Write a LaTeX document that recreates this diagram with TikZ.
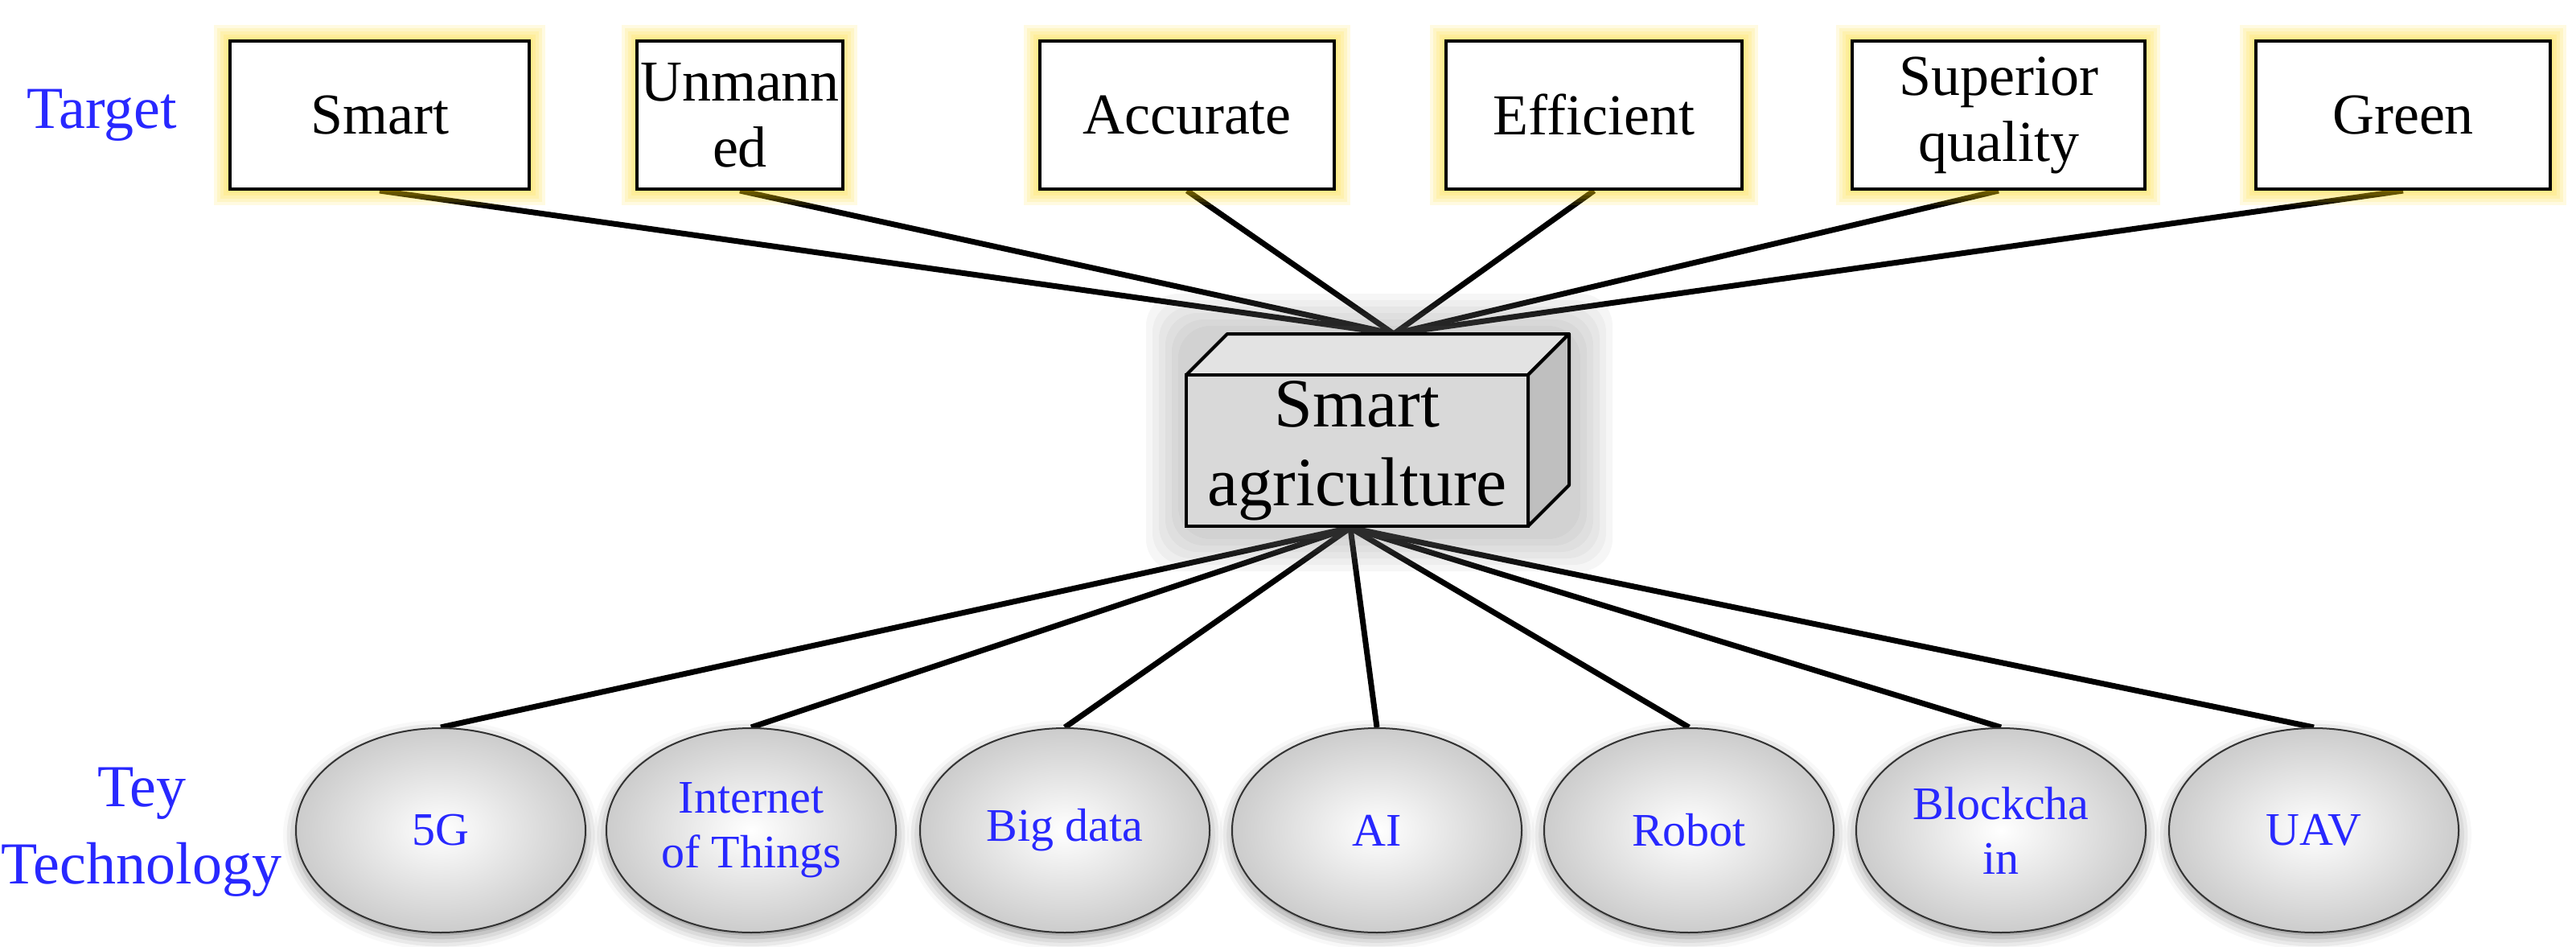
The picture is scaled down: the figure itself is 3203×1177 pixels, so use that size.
\documentclass[tikz,border=0pt]{standalone}
\usepackage{fontspec}
\setmainfont{Liberation Serif}
\usetikzlibrary{shapes.geometric,backgrounds,shadows.blur}
\definecolor{tblue}{RGB}{40,40,255}
\tikzset{
  tgt/.style={draw=black,line width=2pt,fill=white,minimum height=92pt,inner sep=2pt,align=center,font=\fontsize{36}{41}\selectfont},
  tech/.style={ellipse,draw=black!80,line width=1pt,minimum width=180pt,minimum height=127pt,inner sep=0pt,align=center,
    inner color=white,outer color=gray!40,text=tblue,font=\fontsize{29}{34}\selectfont,
    blur shadow={shadow xshift=0pt,shadow yshift=-3pt,shadow blur radius=8pt,shadow opacity=45}},
  lbl/.style={text=tblue,align=center,font=\fontsize{37}{44}\selectfont},
  conn/.style={line width=3.5pt,black},
  glow/.style={fill=yellow!70!orange,opacity=0.12,draw=none}
}
\begin{document}
\begin{tikzpicture}[x=0.5pt,y=-0.5pt]
\useasboundingbox (0,0) rectangle (3203,1177);
% soft shadow of the 3D box
\foreach \d in {0,8,16,24,32,40}{\fill[gray,opacity=0.07,rounded corners=20] (1465-\d,405-\d) rectangle (1965+\d,670+\d);}
% glows
\foreach \xa/\xb in {286/658,793/1046,1293/1659,1798/2166,2303/2666,2805/3171}{
  \foreach \d in {4,8,12,16,20}{
    \fill[glow] (\xa-\d,51-\d) rectangle (\xb+\d,235+\d);
  }
}
\node[tgt,minimum width=186pt] (t1) at (472,143) {Smart};
\node[tgt,minimum width=126pt] (t2) at (920,143) {Unmann\\ed};
\node[tgt,minimum width=183pt] (t3) at (1476,143) {Accurate};
\node[tgt,minimum width=184pt] (t4) at (1982,143) {Efficient};
\node[tgt,minimum width=182pt] (t5) at (2485,143) {Superior\\quality};
\node[tgt,minimum width=183pt] (t6) at (2988,143) {Green};
\node[lbl] (ltarget) at (127,143) {Target};
\node[lbl,font=\fontsize{37}{48}\selectfont] (ltech) at (176,1034) {Tey\\Technology};
% ellipses
\node[tech] (e1) at (548,1032) {5G};
\node[tech] (e2) at (934,1032) {Internet\\of Things};
\node[tech] (e3) at (1324,1032) {Big data};
\node[tech] (e4) at (1712,1032) {AI};
\node[tech] (e5) at (2100,1032) {Robot};
\node[tech] (e6) at (2488,1032) {Blockcha\\in};
\node[tech] (e7) at (2877,1032) {UAV};
% 3D box
\coordinate (tc) at (1733,415);
\coordinate (bc) at (1679,656);
\fill[gray!22,draw=black,line width=2pt,line join=round] (1475,466) -- (1526,415) -- (1951,415) -- (1900,466) -- cycle;
\fill[gray!50,draw=black,line width=2pt,line join=round] (1900,466) -- (1951,415) -- (1951,603) -- (1900,654) -- cycle;
\node[draw=black,line width=2pt,fill=gray!30,minimum width=212.5pt,minimum height=94pt,inner sep=0pt,align=center,
  font=\fontsize{43}{49}\selectfont] (sa) at (1687.5,560) {Smart\\agriculture};
\begin{scope}[on background layer]
\foreach \t in {t1,t2,t3,t4,t5,t6}{\draw[conn] (\t.south) -- (tc);}
\foreach \e in {e1,e2,e3,e4,e5,e6,e7}{\draw[conn] (bc) -- (\e.north);}
\end{scope}
\end{tikzpicture}
\end{document}
